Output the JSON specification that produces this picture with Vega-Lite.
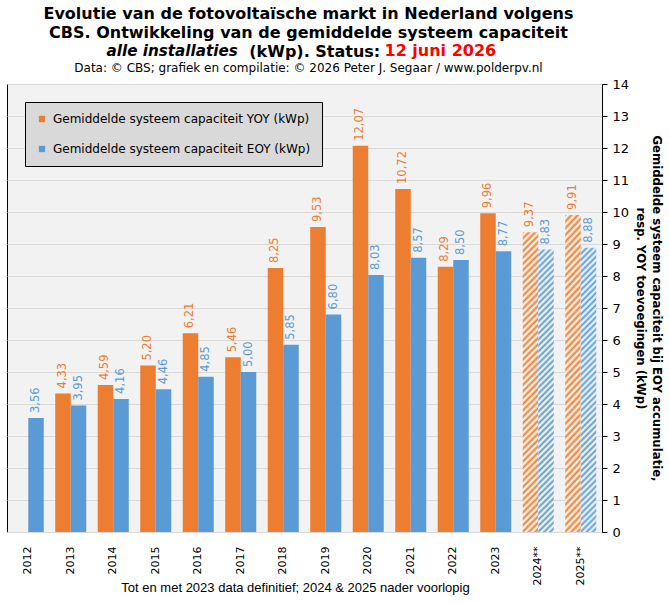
{
  "$schema": "https://vega.github.io/schema/vega-lite/v6.json",
  "autosize": "none",
  "padding": {"left": 7, "top": 84, "right": 67, "bottom": 70},
  "width": 595,
  "height": 448,
  "background": "white",
  "title": {
    "text": [
      "Evolutie van de fotovoltaïsche markt in Nederland volgens",
      "CBS. Ontwikkeling van de gemiddelde systeem capaciteit",
      "\u2800(kWp). Status:"
    ],
    "subtitle": "Data: © CBS; grafiek en compilatie: © 2026 Peter J. Segaar / www.polderpv.nl",
    "frame": "group",
    "anchor": "middle",
    "dx": 4,
    "font": "DejaVu Sans",
    "fontSize": 16,
    "fontWeight": "bold",
    "lineHeight": 19,
    "color": "black",
    "subtitleFont": "DejaVu Sans",
    "subtitleFontSize": 12,
    "subtitleColor": "black",
    "subtitlePadding": 3,
    "offset": -32
  },
  "config": {
    "locale": {"number": {"decimal": ",", "thousands": ".", "grouping": [3], "currency": ["€", ""]}},
    "view": {"fill": "#f2f2f2", "stroke": "black", "strokeWidth": 1}
  },
  "data": {
    "values": [
      {"jaar": "2012", "reeks": "Gemiddelde systeem capaciteit EOY (kWp)", "waarde": 3.56, "status": "definitief"},
      {"jaar": "2013", "reeks": "Gemiddelde systeem capaciteit YOY (kWp)", "waarde": 4.33, "status": "definitief"},
      {"jaar": "2013", "reeks": "Gemiddelde systeem capaciteit EOY (kWp)", "waarde": 3.95, "status": "definitief"},
      {"jaar": "2014", "reeks": "Gemiddelde systeem capaciteit YOY (kWp)", "waarde": 4.59, "status": "definitief"},
      {"jaar": "2014", "reeks": "Gemiddelde systeem capaciteit EOY (kWp)", "waarde": 4.16, "status": "definitief"},
      {"jaar": "2015", "reeks": "Gemiddelde systeem capaciteit YOY (kWp)", "waarde": 5.20, "status": "definitief"},
      {"jaar": "2015", "reeks": "Gemiddelde systeem capaciteit EOY (kWp)", "waarde": 4.46, "status": "definitief"},
      {"jaar": "2016", "reeks": "Gemiddelde systeem capaciteit YOY (kWp)", "waarde": 6.21, "status": "definitief"},
      {"jaar": "2016", "reeks": "Gemiddelde systeem capaciteit EOY (kWp)", "waarde": 4.85, "status": "definitief"},
      {"jaar": "2017", "reeks": "Gemiddelde systeem capaciteit YOY (kWp)", "waarde": 5.46, "status": "definitief"},
      {"jaar": "2017", "reeks": "Gemiddelde systeem capaciteit EOY (kWp)", "waarde": 5.00, "status": "definitief"},
      {"jaar": "2018", "reeks": "Gemiddelde systeem capaciteit YOY (kWp)", "waarde": 8.25, "status": "definitief"},
      {"jaar": "2018", "reeks": "Gemiddelde systeem capaciteit EOY (kWp)", "waarde": 5.85, "status": "definitief"},
      {"jaar": "2019", "reeks": "Gemiddelde systeem capaciteit YOY (kWp)", "waarde": 9.53, "status": "definitief"},
      {"jaar": "2019", "reeks": "Gemiddelde systeem capaciteit EOY (kWp)", "waarde": 6.80, "status": "definitief"},
      {"jaar": "2020", "reeks": "Gemiddelde systeem capaciteit YOY (kWp)", "waarde": 12.07, "status": "definitief"},
      {"jaar": "2020", "reeks": "Gemiddelde systeem capaciteit EOY (kWp)", "waarde": 8.03, "status": "definitief"},
      {"jaar": "2021", "reeks": "Gemiddelde systeem capaciteit YOY (kWp)", "waarde": 10.72, "status": "definitief"},
      {"jaar": "2021", "reeks": "Gemiddelde systeem capaciteit EOY (kWp)", "waarde": 8.57, "status": "definitief"},
      {"jaar": "2022", "reeks": "Gemiddelde systeem capaciteit YOY (kWp)", "waarde": 8.29, "status": "definitief"},
      {"jaar": "2022", "reeks": "Gemiddelde systeem capaciteit EOY (kWp)", "waarde": 8.50, "status": "definitief"},
      {"jaar": "2023", "reeks": "Gemiddelde systeem capaciteit YOY (kWp)", "waarde": 9.96, "status": "definitief"},
      {"jaar": "2023", "reeks": "Gemiddelde systeem capaciteit EOY (kWp)", "waarde": 8.77, "status": "definitief"},
      {"jaar": "2024**", "reeks": "Gemiddelde systeem capaciteit YOY (kWp)", "waarde": 9.37, "status": "voorlopig"},
      {"jaar": "2024**", "reeks": "Gemiddelde systeem capaciteit EOY (kWp)", "waarde": 8.83, "status": "voorlopig"},
      {"jaar": "2025**", "reeks": "Gemiddelde systeem capaciteit YOY (kWp)", "waarde": 9.91, "status": "voorlopig"},
      {"jaar": "2025**", "reeks": "Gemiddelde systeem capaciteit EOY (kWp)", "waarde": 8.88, "status": "voorlopig"}
    ]
  },
  "encoding": {
    "x": {"field": "jaar", "type": "ordinal", "scale": {"paddingInner": 0.27, "paddingOuter": 0.135}},
    "xOffset": {"field": "reeks", "type": "nominal", "scale": {"domain": ["Gemiddelde systeem capaciteit YOY (kWp)", "Gemiddelde systeem capaciteit EOY (kWp)"]}},
    "y": {"field": "waarde", "type": "quantitative", "scale": {"domain": [0, 14]}}
  },
  "layer": [
    {
      "mark": {"type": "bar"},
      "encoding": {
        "x": {
          "field": "jaar", "type": "ordinal",
          "axis": {
            "orient": "bottom", "labelAngle": -90, "labelFont": "DejaVu Sans", "labelFontSize": 11,
            "labelColor": "black", "labelPadding": 14, "ticks": false, "domainColor": "#d9d9d9",
            "title": "Tot en met 2023 data definitief; 2024 & 2025 nader voorlopig",
            "titleFont": "Liberation Sans", "titleFontSize": 13, "titleFontWeight": "normal", "titleColor": "black",
            "titleX": 288, "titleY": 59, "titleBaseline": "alphabetic", "titleAlign": "center"
          }
        },
        "y": {
          "field": "waarde", "type": "quantitative",
          "axis": {
            "orient": "right", "values": [0, 1, 2, 3, 4, 5, 6, 7, 8, 9, 10, 11, 12, 13, 14],
            "grid": true, "gridColor": "#d9d9d9", "domainColor": "black", "tickColor": "black", "tickSize": 5,
            "labelFont": "DejaVu Sans", "labelFontSize": 13, "labelColor": "black", "labelPadding": 5,
            "title": ["Gemiddelde systeem capaciteit bij EOY accumulatie,", "resp. YOY toevoegingen (kWp)"],
            "titleFont": "DejaVu Sans", "titleFontSize": 11.7, "titleFontWeight": "bold", "titleColor": "black",
            "titleLineHeight": 16, "titlePadding": 6
          }
        },
        "color": {
          "field": "reeks", "type": "nominal",
          "scale": {"domain": ["Gemiddelde systeem capaciteit YOY (kWp)", "Gemiddelde systeem capaciteit EOY (kWp)"], "range": ["#ed7d31", "#5b9bd5"]},
          "legend": {
            "title": null, "orient": "none", "legendX": 18, "legendY": 18,
            "fillColor": "#d9d9d9", "strokeColor": "black", "padding": 11,
            "symbolType": "square", "symbolSize": 40, "symbolStrokeWidth": 0,
            "labelFont": "DejaVu Sans", "labelFontSize": 12, "labelColor": "black", "labelLimit": 400,
            "labelOffset": 5, "rowPadding": 18
          },
          "condition": [
            {
              "test": "datum.status === 'voorlopig' && datum.reeks === 'Gemiddelde systeem capaciteit YOY (kWp)'",
              "value": {
                "gradient": "linear", "x1": 0, "y1": 0, "x2": 0.055, "y2": 1.06,
                "stops": [
                  {"offset": 0, "color": "#ed7d31"}, {"offset": 0.01, "color": "#ffffff"}, {"offset": 0.02, "color": "#ed7d31"}, {"offset": 0.03, "color": "#ffffff"}, {"offset": 0.04, "color": "#ed7d31"}, {"offset": 0.05, "color": "#ffffff"}, {"offset": 0.06, "color": "#ed7d31"}, {"offset": 0.07, "color": "#ffffff"}, {"offset": 0.08, "color": "#ed7d31"}, {"offset": 0.09, "color": "#ffffff"},
                  {"offset": 0.10, "color": "#ed7d31"}, {"offset": 0.11, "color": "#ffffff"}, {"offset": 0.12, "color": "#ed7d31"}, {"offset": 0.13, "color": "#ffffff"}, {"offset": 0.14, "color": "#ed7d31"}, {"offset": 0.15, "color": "#ffffff"}, {"offset": 0.16, "color": "#ed7d31"}, {"offset": 0.17, "color": "#ffffff"}, {"offset": 0.18, "color": "#ed7d31"}, {"offset": 0.19, "color": "#ffffff"},
                  {"offset": 0.20, "color": "#ed7d31"}, {"offset": 0.21, "color": "#ffffff"}, {"offset": 0.22, "color": "#ed7d31"}, {"offset": 0.23, "color": "#ffffff"}, {"offset": 0.24, "color": "#ed7d31"}, {"offset": 0.25, "color": "#ffffff"}, {"offset": 0.26, "color": "#ed7d31"}, {"offset": 0.27, "color": "#ffffff"}, {"offset": 0.28, "color": "#ed7d31"}, {"offset": 0.29, "color": "#ffffff"},
                  {"offset": 0.30, "color": "#ed7d31"}, {"offset": 0.31, "color": "#ffffff"}, {"offset": 0.32, "color": "#ed7d31"}, {"offset": 0.33, "color": "#ffffff"}, {"offset": 0.34, "color": "#ed7d31"}, {"offset": 0.35, "color": "#ffffff"}, {"offset": 0.36, "color": "#ed7d31"}, {"offset": 0.37, "color": "#ffffff"}, {"offset": 0.38, "color": "#ed7d31"}, {"offset": 0.39, "color": "#ffffff"},
                  {"offset": 0.40, "color": "#ed7d31"}, {"offset": 0.41, "color": "#ffffff"}, {"offset": 0.42, "color": "#ed7d31"}, {"offset": 0.43, "color": "#ffffff"}, {"offset": 0.44, "color": "#ed7d31"}, {"offset": 0.45, "color": "#ffffff"}, {"offset": 0.46, "color": "#ed7d31"}, {"offset": 0.47, "color": "#ffffff"}, {"offset": 0.48, "color": "#ed7d31"}, {"offset": 0.49, "color": "#ffffff"},
                  {"offset": 0.50, "color": "#ed7d31"}, {"offset": 0.51, "color": "#ffffff"}, {"offset": 0.52, "color": "#ed7d31"}, {"offset": 0.53, "color": "#ffffff"}, {"offset": 0.54, "color": "#ed7d31"}, {"offset": 0.55, "color": "#ffffff"}, {"offset": 0.56, "color": "#ed7d31"}, {"offset": 0.57, "color": "#ffffff"}, {"offset": 0.58, "color": "#ed7d31"}, {"offset": 0.59, "color": "#ffffff"},
                  {"offset": 0.60, "color": "#ed7d31"}, {"offset": 0.61, "color": "#ffffff"}, {"offset": 0.62, "color": "#ed7d31"}, {"offset": 0.63, "color": "#ffffff"}, {"offset": 0.64, "color": "#ed7d31"}, {"offset": 0.65, "color": "#ffffff"}, {"offset": 0.66, "color": "#ed7d31"}, {"offset": 0.67, "color": "#ffffff"}, {"offset": 0.68, "color": "#ed7d31"}, {"offset": 0.69, "color": "#ffffff"},
                  {"offset": 0.70, "color": "#ed7d31"}, {"offset": 0.71, "color": "#ffffff"}, {"offset": 0.72, "color": "#ed7d31"}, {"offset": 0.73, "color": "#ffffff"}, {"offset": 0.74, "color": "#ed7d31"}, {"offset": 0.75, "color": "#ffffff"}, {"offset": 0.76, "color": "#ed7d31"}, {"offset": 0.77, "color": "#ffffff"}, {"offset": 0.78, "color": "#ed7d31"}, {"offset": 0.79, "color": "#ffffff"},
                  {"offset": 0.80, "color": "#ed7d31"}, {"offset": 0.81, "color": "#ffffff"}, {"offset": 0.82, "color": "#ed7d31"}, {"offset": 0.83, "color": "#ffffff"}, {"offset": 0.84, "color": "#ed7d31"}, {"offset": 0.85, "color": "#ffffff"}, {"offset": 0.86, "color": "#ed7d31"}, {"offset": 0.87, "color": "#ffffff"}, {"offset": 0.88, "color": "#ed7d31"}, {"offset": 0.89, "color": "#ffffff"},
                  {"offset": 0.90, "color": "#ed7d31"}, {"offset": 0.91, "color": "#ffffff"}, {"offset": 0.92, "color": "#ed7d31"}, {"offset": 0.93, "color": "#ffffff"}, {"offset": 0.94, "color": "#ed7d31"}, {"offset": 0.95, "color": "#ffffff"}, {"offset": 0.96, "color": "#ed7d31"}, {"offset": 0.97, "color": "#ffffff"}, {"offset": 0.98, "color": "#ed7d31"}, {"offset": 0.99, "color": "#ffffff"},
                  {"offset": 1, "color": "#ed7d31"}
                ]
              }
            },
            {
              "test": "datum.status === 'voorlopig' && datum.reeks === 'Gemiddelde systeem capaciteit EOY (kWp)'",
              "value": {
                "gradient": "linear", "x1": 0, "y1": 0, "x2": 0.058, "y2": 1.06,
                "stops": [
                  {"offset": 0, "color": "#5b9bd5"}, {"offset": 0.01, "color": "#ffffff"}, {"offset": 0.02, "color": "#5b9bd5"}, {"offset": 0.03, "color": "#ffffff"}, {"offset": 0.04, "color": "#5b9bd5"}, {"offset": 0.05, "color": "#ffffff"}, {"offset": 0.06, "color": "#5b9bd5"}, {"offset": 0.07, "color": "#ffffff"}, {"offset": 0.08, "color": "#5b9bd5"}, {"offset": 0.09, "color": "#ffffff"},
                  {"offset": 0.10, "color": "#5b9bd5"}, {"offset": 0.11, "color": "#ffffff"}, {"offset": 0.12, "color": "#5b9bd5"}, {"offset": 0.13, "color": "#ffffff"}, {"offset": 0.14, "color": "#5b9bd5"}, {"offset": 0.15, "color": "#ffffff"}, {"offset": 0.16, "color": "#5b9bd5"}, {"offset": 0.17, "color": "#ffffff"}, {"offset": 0.18, "color": "#5b9bd5"}, {"offset": 0.19, "color": "#ffffff"},
                  {"offset": 0.20, "color": "#5b9bd5"}, {"offset": 0.21, "color": "#ffffff"}, {"offset": 0.22, "color": "#5b9bd5"}, {"offset": 0.23, "color": "#ffffff"}, {"offset": 0.24, "color": "#5b9bd5"}, {"offset": 0.25, "color": "#ffffff"}, {"offset": 0.26, "color": "#5b9bd5"}, {"offset": 0.27, "color": "#ffffff"}, {"offset": 0.28, "color": "#5b9bd5"}, {"offset": 0.29, "color": "#ffffff"},
                  {"offset": 0.30, "color": "#5b9bd5"}, {"offset": 0.31, "color": "#ffffff"}, {"offset": 0.32, "color": "#5b9bd5"}, {"offset": 0.33, "color": "#ffffff"}, {"offset": 0.34, "color": "#5b9bd5"}, {"offset": 0.35, "color": "#ffffff"}, {"offset": 0.36, "color": "#5b9bd5"}, {"offset": 0.37, "color": "#ffffff"}, {"offset": 0.38, "color": "#5b9bd5"}, {"offset": 0.39, "color": "#ffffff"},
                  {"offset": 0.40, "color": "#5b9bd5"}, {"offset": 0.41, "color": "#ffffff"}, {"offset": 0.42, "color": "#5b9bd5"}, {"offset": 0.43, "color": "#ffffff"}, {"offset": 0.44, "color": "#5b9bd5"}, {"offset": 0.45, "color": "#ffffff"}, {"offset": 0.46, "color": "#5b9bd5"}, {"offset": 0.47, "color": "#ffffff"}, {"offset": 0.48, "color": "#5b9bd5"}, {"offset": 0.49, "color": "#ffffff"},
                  {"offset": 0.50, "color": "#5b9bd5"}, {"offset": 0.51, "color": "#ffffff"}, {"offset": 0.52, "color": "#5b9bd5"}, {"offset": 0.53, "color": "#ffffff"}, {"offset": 0.54, "color": "#5b9bd5"}, {"offset": 0.55, "color": "#ffffff"}, {"offset": 0.56, "color": "#5b9bd5"}, {"offset": 0.57, "color": "#ffffff"}, {"offset": 0.58, "color": "#5b9bd5"}, {"offset": 0.59, "color": "#ffffff"},
                  {"offset": 0.60, "color": "#5b9bd5"}, {"offset": 0.61, "color": "#ffffff"}, {"offset": 0.62, "color": "#5b9bd5"}, {"offset": 0.63, "color": "#ffffff"}, {"offset": 0.64, "color": "#5b9bd5"}, {"offset": 0.65, "color": "#ffffff"}, {"offset": 0.66, "color": "#5b9bd5"}, {"offset": 0.67, "color": "#ffffff"}, {"offset": 0.68, "color": "#5b9bd5"}, {"offset": 0.69, "color": "#ffffff"},
                  {"offset": 0.70, "color": "#5b9bd5"}, {"offset": 0.71, "color": "#ffffff"}, {"offset": 0.72, "color": "#5b9bd5"}, {"offset": 0.73, "color": "#ffffff"}, {"offset": 0.74, "color": "#5b9bd5"}, {"offset": 0.75, "color": "#ffffff"}, {"offset": 0.76, "color": "#5b9bd5"}, {"offset": 0.77, "color": "#ffffff"}, {"offset": 0.78, "color": "#5b9bd5"}, {"offset": 0.79, "color": "#ffffff"},
                  {"offset": 0.80, "color": "#5b9bd5"}, {"offset": 0.81, "color": "#ffffff"}, {"offset": 0.82, "color": "#5b9bd5"}, {"offset": 0.83, "color": "#ffffff"}, {"offset": 0.84, "color": "#5b9bd5"}, {"offset": 0.85, "color": "#ffffff"}, {"offset": 0.86, "color": "#5b9bd5"}, {"offset": 0.87, "color": "#ffffff"}, {"offset": 0.88, "color": "#5b9bd5"}, {"offset": 0.89, "color": "#ffffff"},
                  {"offset": 0.90, "color": "#5b9bd5"}, {"offset": 0.91, "color": "#ffffff"}, {"offset": 0.92, "color": "#5b9bd5"}, {"offset": 0.93, "color": "#ffffff"}, {"offset": 0.94, "color": "#5b9bd5"}, {"offset": 0.95, "color": "#ffffff"}, {"offset": 0.96, "color": "#5b9bd5"}, {"offset": 0.97, "color": "#ffffff"}, {"offset": 0.98, "color": "#5b9bd5"}, {"offset": 0.99, "color": "#ffffff"},
                  {"offset": 1, "color": "#5b9bd5"}
                ]
              }
            }
          ]
        }
      }
    },
    {
      "mark": {"type": "text", "angle": 270, "align": "left", "baseline": "middle", "dx": 5, "font": "DejaVu Sans", "fontSize": 11.5},
      "encoding": {
        "x": {
          "field": "jaar", "type": "ordinal",
          "axis": {
            "orient": "top", "labels": false, "ticks": false, "domain": false, "grid": false,
            "title": "12 juni 2026", "titleColor": "#ff0000", "titleFont": "DejaVu Sans",
            "titleFontSize": 16, "titleFontWeight": "bold", "titleAlign": "left", "titleBaseline": "alphabetic",
            "titleX": 377, "titleY": -29
          }
        },
        "y": {
          "field": "waarde", "type": "quantitative",
          "axis": {
            "orient": "left", "labels": false, "ticks": false, "domain": false, "grid": false,
            "title": "alle installaties", "titleColor": "black", "titleFont": "DejaVu Sans",
            "titleFontSize": 15.2, "titleFontWeight": "bold", "titleFontStyle": "italic", "titleAngle": 0,
            "titleAlign": "left", "titleBaseline": "alphabetic", "titleX": 99, "titleY": -29
          }
        },
        "text": {"field": "waarde", "type": "quantitative", "format": ".2f"},
        "color": {"field": "reeks", "type": "nominal"}
      }
    }
  ],
  "resolve": {"axis": {"x": "independent", "y": "independent"}}
}
